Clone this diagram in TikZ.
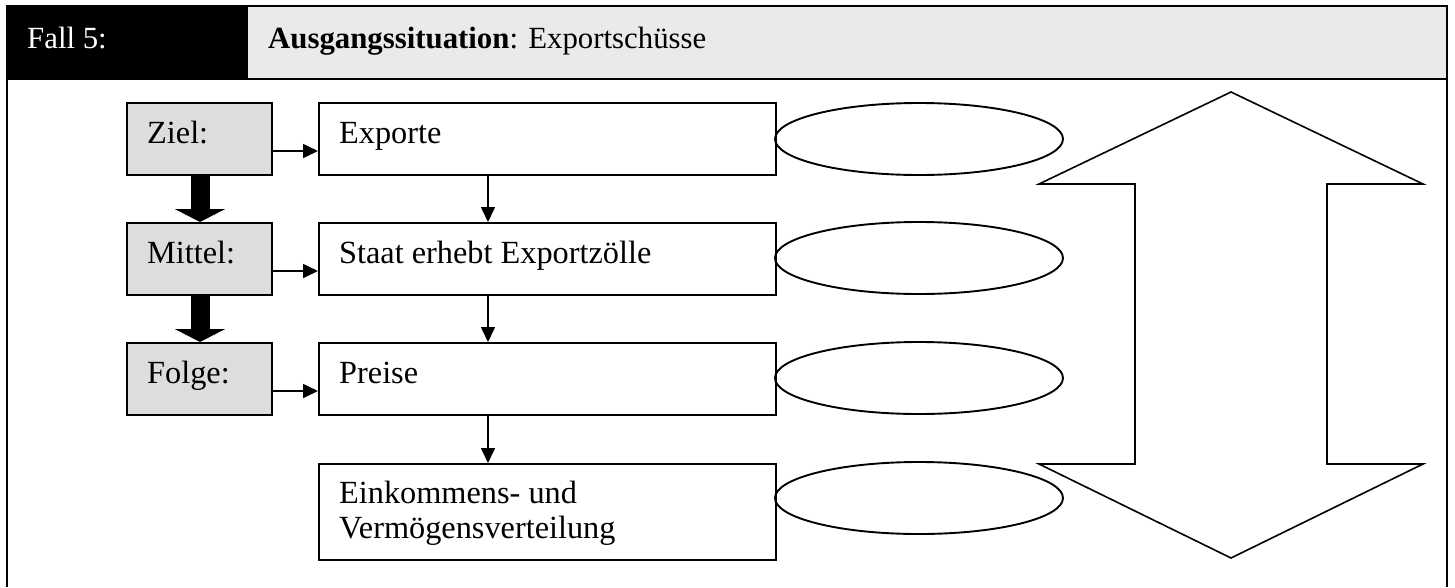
\documentclass[tikz,border=0pt]{standalone}
\usepackage{fontspec}
\setmainfont{Liberation Serif}
\usetikzlibrary{arrows.meta,shapes.geometric}
\definecolor{headgray}{HTML}{EAEAEA}
\definecolor{labelgray}{HTML}{DDDDDD}
\begin{document}
\begin{tikzpicture}[x=1pt,y=-1pt,
  every node/.style={font=\fontsize{32.3}{35}\selectfont},
  headfont/.style={font=\fontsize{30.8}{35}\selectfont},
  labelbox/.style={draw,line width=1.9pt,fill=labelgray,minimum width=145pt,minimum height=72pt,anchor=north west,inner sep=0pt},
  stepbox/.style={draw,line width=1.9pt,fill=white,minimum width=457pt,minimum height=72pt,anchor=north west,inner sep=0pt},
  oval/.style={draw,line width=1.9pt,ellipse,minimum width=288pt,minimum height=72pt,inner sep=0pt},
  txt/.style={anchor=base west,inner sep=0pt},
  thin/.style={line width=1.6pt,-{Triangle[length=15pt,width=14pt]}},
  thick/.style={line width=19pt,-{Triangle[length=13pt,width=50pt]}}]
\useasboundingbox (0,0) rectangle (1455,587);

% header row
\fill[black] (7,6) rectangle (247,79);
\fill[headgray] (247,6) rectangle (1447,79);
\draw[line width=1.5pt] (247,6) -- (247,79);
\draw[line width=2pt] (7,79) -- (1447,79);
\draw[line width=2.5pt] (7,587) -- (7,6) -- (1447,6) -- (1447,587);
\node[txt,headfont,text=white] (fall) at (27,48) {Fall 5:};
\node[txt,headfont] (titel) at (268,48) {\textbf{Ausgangssituation}: Exportschüsse};

% left column
\node[labelbox] (ziel) at (126,102) {};
\node[labelbox] (mittel) at (126,222) {};
\node[labelbox] (folge) at (126,342) {};
\node[txt] at (147,143) {Ziel:};
\node[txt] at (147,263) {Mittel:};
\node[txt] at (147,383) {Folge:};

% chain of effects
\node[stepbox] (exp) at (318,102) {};
\node[stepbox] (staat) at (318,222) {};
\node[stepbox] (preis) at (318,342) {};
\node[stepbox,minimum height=96pt] (eink) at (318,463) {};
\node[txt] at (339,143) {Exporte};
\node[txt] at (339,263) {Staat erhebt Exportzölle};
\node[txt] at (339,383) {Preise};
\node[txt] at (339,503) {Einkommens- und};
\node[txt] at (339,538) {Vermögensverteilung};

% empty answer ovals
\node[oval] (o1) at (919,139) {};
\node[oval] (o2) at (919,258) {};
\node[oval] (o3) at (919,378) {};
\node[oval] (o4) at (919,498) {};

% connectors
\draw[thin] (ziel.east |- 0,151) -- (exp.west |- 0,151);
\draw[thin] (mittel.east |- 0,271) -- (staat.west |- 0,271);
\draw[thin] (folge.east |- 0,391) -- (preis.west |- 0,391);
\draw[thin] (exp.south -| 488,0) -- (staat.north -| 488,0);
\draw[thin] (staat.south -| 488,0) -- (preis.north -| 488,0);
\draw[thin] (preis.south -| 488,0) -- (eink.north -| 488,0);
\draw[thick] (ziel.south -| 200,0) -- (mittel.north -| 200,0);
\draw[thick] (mittel.south -| 200,0) -- (folge.north -| 200,0);

% double-headed block arrow
\draw[line width=1.6pt,line join=miter,fill=white]
  (1231,92) -- (1423,184) -- (1327,184) -- (1327,464) -- (1423,464)
  -- (1231,558) -- (1039,464) -- (1135,464) -- (1135,184) -- (1039,184) -- cycle;
\end{tikzpicture}
\end{document}
